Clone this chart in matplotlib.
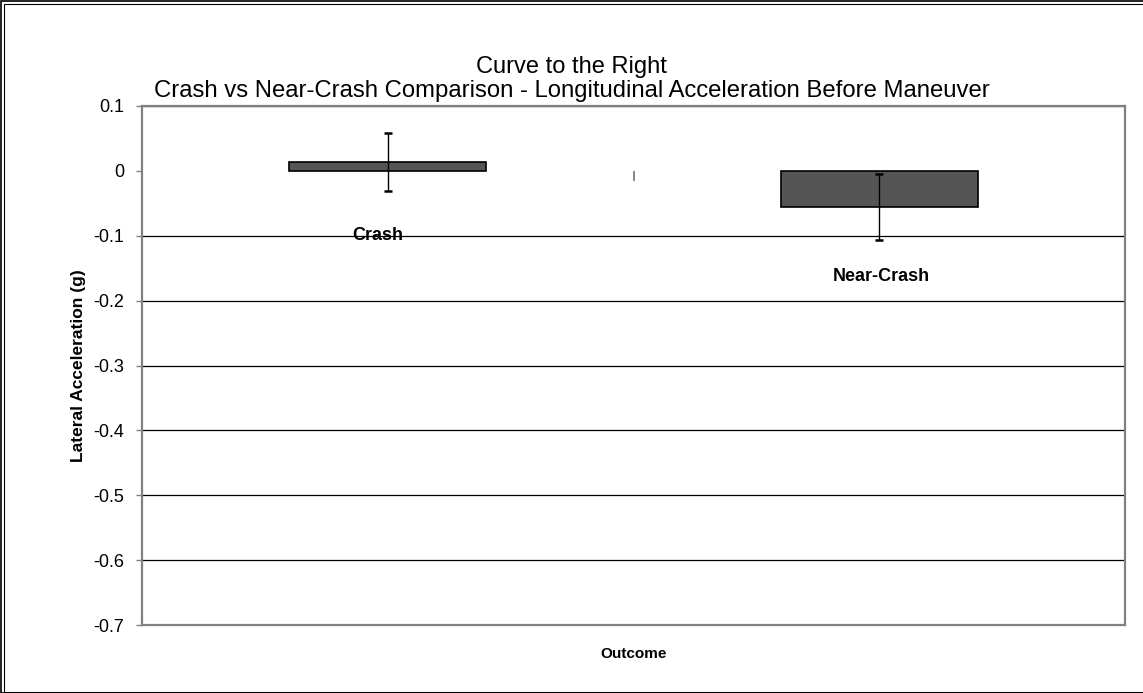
import matplotlib.pyplot as plt
from matplotlib.patches import Rectangle

plt.rcParams['font.family'] = ['Liberation Sans', 'DejaVu Sans']

# data
outcomes = ['Crash', 'Near-Crash']
means = [0.0135, -0.0555]
errors = [0.0445, 0.051]
label_x = [-0.02, 0.005]     # category names sit under the bars
label_y = [-0.100, -0.163]
y_ticks = [0.1, 0, -0.1, -0.2, -0.3, -0.4, -0.5, -0.6, -0.7]

W, H = 1143, 693
fig = plt.figure(figsize=(W / 100, H / 100), dpi=100)
ax = fig.add_axes([142 / W, 1 - 625 / H, (1125 - 142) / W, (625 - 106) / H])

ymin, ymax = -0.7, 0.1
ax.set_ylim(ymin, ymax)
ax.set_xlim(-0.5, len(outcomes) - 0.5)

# gridlines
ax.set_yticks(y_ticks)
ax.set_yticklabels(['0.1', '0', '-0.1', '-0.2', '-0.3', '-0.4', '-0.5', '-0.6', '-0.7'], fontsize=13)
ax.yaxis.grid(True, color='black', linewidth=0.9)
ax.get_ygridlines()[1].set_visible(False)  # no line at zero
ax.set_axisbelow(True)
ax.tick_params(axis='y', length=4, width=1, color='#808080', pad=9)

x = list(range(len(outcomes)))
ax.bar(x, means, width=0.40, color='#555555', edgecolor='black', linewidth=1.2, zorder=3)
ax.errorbar(x, means, yerr=errors, fmt='none', ecolor='black', elinewidth=1,
            capsize=3, capthick=1.8, zorder=4)

for xi, dx, name, ly in zip(x, label_x, outcomes, label_y):
    ax.text(xi + dx, ly, name, ha='center', va='center', fontsize=13, fontweight='bold', zorder=5)

ax.set_xticks([])
for s in ax.spines.values():
    s.set_color('#808080')
    s.set_linewidth(1.6)

# category axis crossing at zero: only its tick marks show
sec = ax.secondary_xaxis((0 - ymin) / (ymax - ymin))
sec.set_xticks([0.5, 1.5])
sec.set_xticklabels([])
for s in sec.spines.values():
    s.set_visible(False)
sec.tick_params(length=7, width=1.3, color='#808080', direction='in')

ax.set_ylabel('Lateral Acceleration (g)', fontsize=12.5, fontweight='bold', labelpad=5)
ax.set_xlabel('Outcome', fontsize=11, fontweight='bold', labelpad=16)

fig.text(0.5, 1 - 67 / H, 'Curve to the Right', ha='center', va='center', fontsize=17)
fig.text(0.5, 1 - 91 / H, 'Crash vs Near-Crash Comparison - Longitudinal Acceleration Before Maneuver',
         ha='center', va='center', fontsize=17.2)

# outer frame (double line at left/top)
fig.patches.append(Rectangle((0.5 / W, 0.5 / H), 1.2, 1 - 1.5 / H, transform=fig.transFigure,
                             fill=False, edgecolor='black', linewidth=1.2))
fig.patches.append(Rectangle((4 / W, 1.5 / H), 1.2, 1 - 5.5 / H, transform=fig.transFigure,
                             fill=False, edgecolor='black', linewidth=0.8))

fig.savefig('out.png', dpi=100)
